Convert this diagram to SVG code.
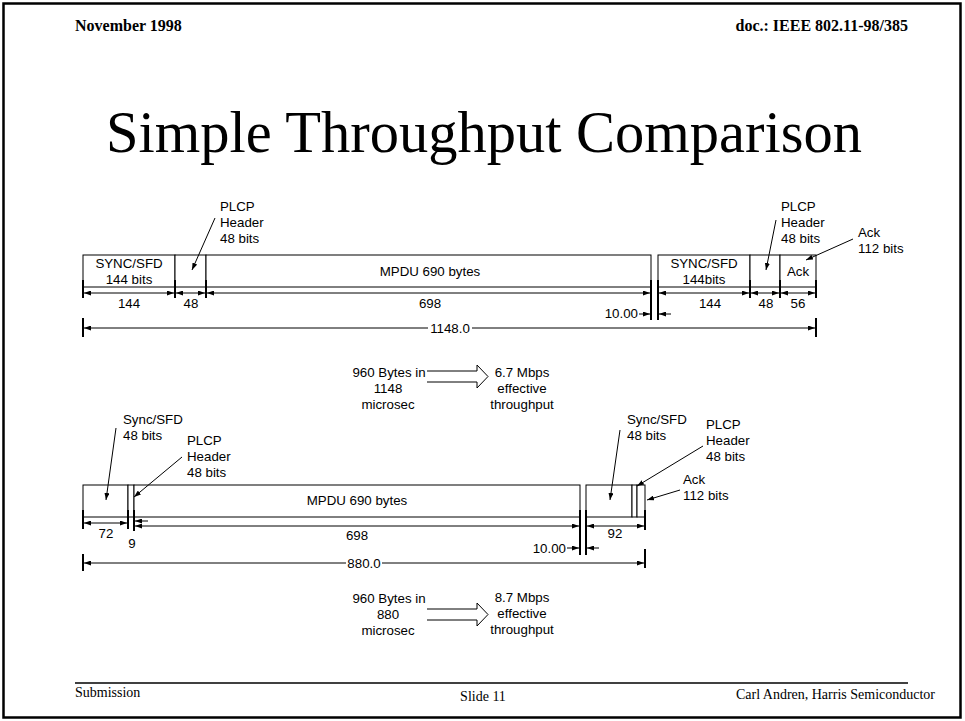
<svg xmlns="http://www.w3.org/2000/svg" width="965" height="721" viewBox="0 0 965 721">
<style>
.hdr{font-family:"Liberation Serif","Times New Roman",serif;font-weight:bold;font-size:16px;fill:#000}
.ftr{font-family:"Liberation Serif","Times New Roman",serif;font-size:14px;fill:#000}
.title{font-family:"Liberation Serif","Times New Roman",serif;font-size:58.5px;fill:#000}
.lbl{font-family:"Liberation Sans",Arial,sans-serif;font-size:13.3px;fill:#000}
.c{text-anchor:middle}
.r{text-anchor:end}
.box{fill:#fff;stroke:#000;stroke-width:1}
.ext{stroke:#000;stroke-width:2;fill:none}
.dim{stroke:#000;stroke-width:1;fill:none;marker-start:url(#ah);marker-end:url(#ah)}
.dimE{stroke:#000;stroke-width:1;fill:none;marker-end:url(#ah)}
.lead{stroke:#000;stroke-width:1;fill:none;marker-end:url(#ah)}
.blk{stroke:#000;stroke-width:1;fill:#fff}
</style>
<defs>
<marker id="ah" viewBox="0 0 7 5" refX="7" refY="2.5" markerWidth="7" markerHeight="5" markerUnits="userSpaceOnUse" orient="auto-start-reverse">
<path d="M0,0 L7,2.5 L0,5 z" fill="#000"/>
</marker>
</defs>
<rect x="0" y="0" width="965" height="721" fill="#fff"/>
<rect x="3.5" y="3.5" width="957" height="714" fill="none" stroke="#000" stroke-width="2.5"/>

<g id="header">
<text class="hdr" x="75" y="31">November 1998</text>
<text class="hdr r" x="908" y="31">doc.: IEEE 802.11-98/385</text>
</g>
<g id="title">
<text class="title c" x="484" y="152">Simple Throughput Comparison</text>
</g>
<g id="footer">
<line x1="75" y1="683" x2="908" y2="683" stroke="#000" stroke-width="1.5"/>
<text class="ftr" x="75" y="697">Submission</text>
<text class="ftr c" x="483" y="701">Slide 11</text>
<text class="ftr r" x="935" y="699">Carl Andren, Harris Semiconductor</text>
</g>

<!-- Top frame -->
<g id="top-sync">
<rect class="box" x="83" y="255" width="92" height="32"/>
<text class="lbl c" x="129" y="268">SYNC/SFD</text>
<text class="lbl c" x="129" y="284">144 bits</text>
</g>
<g id="top-plcp">
<rect class="box" x="175" y="255" width="31" height="32"/>
</g>
<g id="top-mpdu">
<rect class="box" x="206" y="255" width="445" height="32"/>
<text class="lbl c" x="430" y="276">MPDU 690 bytes</text>
</g>
<g id="top-sync2">
<rect class="box" x="658" y="255" width="92" height="32"/>
<text class="lbl c" x="704" y="268">SYNC/SFD</text>
<text class="lbl c" x="704" y="284">144bits</text>
</g>
<g id="top-plcp2">
<rect class="box" x="750" y="255" width="30" height="32"/>
</g>
<g id="top-ack">
<rect class="box" x="780" y="255" width="36" height="32"/>
<text class="lbl c" x="798" y="276">Ack</text>
</g>
<g id="top-plcp-label">
<text class="lbl" x="220" y="211">PLCP</text>
<text class="lbl" x="220" y="227">Header</text>
<text class="lbl" x="220" y="243">48 bits</text>
</g>
<g id="top-plcp2-label">
<text class="lbl" x="781" y="211">PLCP</text>
<text class="lbl" x="781" y="227">Header</text>
<text class="lbl" x="781" y="243">48 bits</text>
</g>
<g id="top-ack-label">
<text class="lbl" x="858" y="237">Ack</text>
<text class="lbl" x="858" y="253">112 bits</text>
</g>
<g id="top-dims-text">
<text class="lbl c" x="129" y="308">144</text>
<text class="lbl c" x="191" y="308">48</text>
<text class="lbl c" x="430" y="308">698</text>
<text class="lbl r" x="638" y="318">10.00</text>
<text class="lbl c" x="710" y="308">144</text>
<text class="lbl c" x="766" y="308">48</text>
<text class="lbl c" x="798" y="308">56</text>
<text class="lbl c" x="450" y="333">1148.0</text>
</g>

<!-- Throughput 1 -->
<g id="tp1-left">
<text class="lbl c" x="389" y="377">960 Bytes in</text>
<text class="lbl c" x="388" y="393">1148</text>
<text class="lbl c" x="388" y="409">microsec</text>
</g>
<g id="tp1-right">
<text class="lbl c" x="522" y="377">6.7 Mbps</text>
<text class="lbl c" x="522" y="393">effective</text>
<text class="lbl c" x="522" y="409">throughput</text>
</g>

<!-- Bottom frame -->
<g id="bot-sync">
<rect class="box" x="83" y="485" width="45" height="32"/>
</g>
<g id="bot-plcp">
<rect class="box" x="128" y="485" width="6" height="32"/>
</g>
<g id="bot-mpdu">
<rect class="box" x="134" y="485" width="446" height="32"/>
<text class="lbl c" x="357" y="505">MPDU 690 bytes</text>
</g>
<g id="bot-sync2">
<rect class="box" x="586" y="485" width="46" height="32"/>
</g>
<g id="bot-plcp2">
<rect class="box" x="632" y="485" width="5" height="32"/>
</g>
<g id="bot-ack">
<rect class="box" x="637" y="485" width="8" height="32"/>
</g>
<g id="bot-sync-label">
<text class="lbl" x="123" y="424">Sync/SFD</text>
<text class="lbl" x="123" y="440">48 bits</text>
</g>
<g id="bot-plcp-label">
<text class="lbl" x="187" y="445">PLCP</text>
<text class="lbl" x="187" y="461">Header</text>
<text class="lbl" x="187" y="477">48 bits</text>
</g>
<g id="bot-sync2-label">
<text class="lbl" x="627" y="424">Sync/SFD</text>
<text class="lbl" x="627" y="440">48 bits</text>
</g>
<g id="bot-plcp2-label">
<text class="lbl" x="706" y="429">PLCP</text>
<text class="lbl" x="706" y="445">Header</text>
<text class="lbl" x="706" y="461">48 bits</text>
</g>
<g id="bot-ack-label">
<text class="lbl" x="683" y="484">Ack</text>
<text class="lbl" x="683" y="500">112 bits</text>
</g>
<g id="bot-dims-text">
<text class="lbl c" x="106" y="538">72</text>
<text class="lbl c" x="132" y="548">9</text>
<text class="lbl c" x="357" y="540">698</text>
<text class="lbl r" x="566" y="553">10.00</text>
<text class="lbl c" x="615" y="538">92</text>
<text class="lbl c" x="364" y="568">880.0</text>
</g>

<!-- Throughput 2 -->
<g id="tp2-left">
<text class="lbl c" x="389" y="603">960 Bytes in</text>
<text class="lbl c" x="388" y="619">880</text>
<text class="lbl c" x="388" y="635">microsec</text>
</g>
<g id="tp2-right">
<text class="lbl c" x="522" y="602">8.7 Mbps</text>
<text class="lbl c" x="522" y="618">effective</text>
<text class="lbl c" x="522" y="634">throughput</text>
</g>

<g id="connectors">
<!-- block arrows -->
<polyline class="blk" points="427,371 477,371 477,365 488,376.5 477,388 477,382 427,382"/>
<polyline class="blk" points="427,609 477,609 477,603 488,614.5 477,626 477,620 427,620"/>

<!-- leader arrows top -->
<line class="lead" x1="215" y1="218" x2="192" y2="270"/>
<line class="lead" x1="776" y1="220" x2="766" y2="270"/>
<line class="lead" x1="853" y1="239" x2="806" y2="260"/>
<!-- leader arrows bottom -->
<line class="lead" x1="116" y1="428" x2="106" y2="500"/>
<line class="lead" x1="182" y1="457" x2="134" y2="497"/>
<line class="lead" x1="620" y1="430" x2="610" y2="500"/>
<line class="lead" x1="703" y1="446" x2="637" y2="486"/>
<line class="lead" x1="680" y1="490" x2="647" y2="500"/>

<!-- top extension lines -->
<line class="ext" x1="83" y1="280" x2="83" y2="298"/>
<line class="ext" x1="175" y1="280" x2="175" y2="298"/>
<line class="ext" x1="206" y1="280" x2="206" y2="298"/>
<line class="ext" x1="651" y1="280" x2="651" y2="320"/>
<line class="ext" x1="658" y1="280" x2="658" y2="320"/>
<line class="ext" x1="750" y1="280" x2="750" y2="298"/>
<line class="ext" x1="780" y1="280" x2="780" y2="298"/>
<line class="ext" x1="816" y1="280" x2="816" y2="298"/>
<line class="ext" x1="83" y1="318" x2="83" y2="337"/>
<line class="ext" x1="816" y1="318" x2="816" y2="337"/>
<!-- top dimension lines -->
<line class="dim" x1="84" y1="293" x2="174" y2="293"/>
<line class="dim" x1="176" y1="293" x2="205" y2="293"/>
<line class="dim" x1="207" y1="293" x2="650" y2="293"/>
<line class="dim" x1="659" y1="293" x2="749" y2="293"/>
<line class="dim" x1="751" y1="293" x2="779" y2="293"/>
<line class="dim" x1="781" y1="293" x2="815" y2="293"/>
<line class="dimE" x1="639" y1="314" x2="650" y2="314"/>
<line class="dimE" x1="671" y1="314" x2="659" y2="314"/>
<line class="dimE" x1="428" y1="328" x2="84" y2="328"/>
<line class="dimE" x1="472" y1="328" x2="815" y2="328"/>

<!-- bottom extension lines -->
<line class="ext" x1="83" y1="510" x2="83" y2="529"/>
<line class="ext" x1="128" y1="510" x2="128" y2="529"/>
<line class="ext" x1="134" y1="510" x2="134" y2="531"/>
<line class="ext" x1="580" y1="510" x2="580" y2="555"/>
<line class="ext" x1="586" y1="510" x2="586" y2="555"/>
<line class="ext" x1="645" y1="510" x2="645" y2="530"/>
<line class="ext" x1="83" y1="554" x2="83" y2="571"/>
<line class="ext" x1="645" y1="549" x2="645" y2="568"/>
<!-- bottom dimension lines -->
<line class="dim" x1="84" y1="523" x2="127" y2="523"/>
<line class="dimE" x1="148" y1="521" x2="135" y2="521"/>
<line class="dim" x1="135" y1="526" x2="579" y2="526"/>
<line class="dim" x1="587" y1="526" x2="644" y2="526"/>
<line class="dimE" x1="567" y1="548" x2="579" y2="548"/>
<line class="dimE" x1="599" y1="548" x2="587" y2="548"/>
<line class="dimE" x1="346" y1="563" x2="84" y2="563"/>
<line class="dimE" x1="382" y1="563" x2="644" y2="563"/>
</g>
</svg>
